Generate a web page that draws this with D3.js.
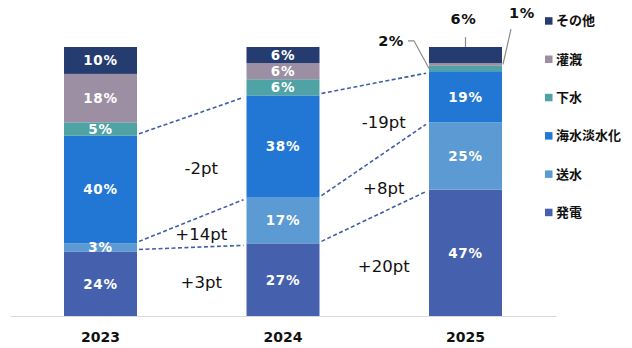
<!DOCTYPE html>
<html><head><meta charset="utf-8">
<script src="https://cdn.jsdelivr.net/npm/d3@7"></script>
<style>
body{margin:0;background:#fff;}
svg{display:block;}
</style></head>
<body><svg id="c" width="632" height="348"></svg>
<script>
const years = ["2023", "2024", "2025"];
const seriesNames = ["発電", "送水", "海水淡水化", "下水", "灌漑", "その他"];
const hatsuden = [24, 27, 47];
const sousui = [3, 17, 25];
const kaisui = [40, 38, 19];
const gesui = [5, 6, 2];
const kangai = [18, 6, 1];
const sonota = [10, 6, 6];
const colors = ["#4561ad", "#5b9ad2", "#2277d4", "#4fa3a5", "#9d8fa3", "#253c70"];
const compareSeries = ["発電", "送水", "海水淡水化"];

const values = [hatsuden, sousui, kaisui, gesui, kangai, sonota];
const rows = years.map((y, i) => {
  const r = {year: y};
  seriesNames.forEach((s, k) => r[s] = values[k][i]);
  return r;
});
const stack = d3.stack().keys(seriesNames)(rows);

const svg = d3.select("#c");
const x = d3.scaleBand().domain(years).range([10, 556]).paddingInner(0.6).paddingOuter(0.296);
const y = d3.scaleLinear().domain([0, 100]).range([316, 47]);
const color = d3.scaleOrdinal().domain(seriesNames).range(colors);
const latin = "'DejaVu Sans', Verdana, sans-serif";
const cjk = "'Noto Sans CJK JP', sans-serif";

// axis
const xAxis = svg.append("g").attr("transform", "translate(0,316)")
  .call(d3.axisBottom(x).tickSize(0).tickPadding(16));
xAxis.select(".domain").attr("stroke", "#d9d9d9").attr("stroke-width", 1.2);
xAxis.selectAll("text").attr("font-family", latin).attr("font-size", 14)
  .attr("font-weight", "bold").attr("fill", "#111");

// bars
const layers = svg.append("g").selectAll("g").data(stack).join("g")
  .attr("fill", d => color(d.key));
layers.selectAll("rect").data(d => d).join("rect")
  .attr("x", d => x(d.data.year))
  .attr("width", x.bandwidth())
  .attr("y", d => y(d[1]))
  .attr("height", d => y(d[0]) - y(d[1]));

// inside labels
const outside = (key, year) => year === "2025" && ["下水", "灌漑", "その他"].includes(key);
stack.forEach(layer => {
  layer.forEach(d => {
    if (outside(layer.key, d.data.year)) return;
    svg.append("text")
      .attr("x", x(d.data.year) + x.bandwidth() / 2)
      .attr("y", (y(d[0]) + y(d[1])) / 2)
      .attr("dy", "0.36em")
      .attr("text-anchor", "middle")
      .attr("font-family", latin).attr("font-size", 13.5).attr("font-weight", "bold")
      .attr("letter-spacing", 0.8)
      .attr("fill", "#fff")
      .text(d.data[layer.key] + "%");
  });
});

// outside labels for 2025 with leader lines
const yr = "2025";
const bx0 = x(yr), bx1 = x(yr) + x.bandwidth(), bxm = bx0 + x.bandwidth() / 2;
const L = k => stack.find(s => s.key === k)[2];
const lead = svg.append("g").attr("stroke", "#8c8c8c").attr("stroke-width", 1.2).attr("fill", "none");
const outText = (xx, yy, anchor, t) => svg.append("text").attr("x", xx).attr("y", yy).attr("dy", "0.36em")
  .attr("text-anchor", anchor).attr("font-family", latin).attr("font-size", 14.5)
  .attr("font-weight", "bold").attr("letter-spacing", 0.6).attr("fill", "#111").text(t);
// その他
const so = L("その他");
lead.append("path").attr("d", `M${bxm},${y(so[1]) - 10}L${bxm},${y(so[1])}`);
outText(bxm - 2, y(so[1]) - 28, "middle", sonota[2] + "%");
// 灌漑
const ka = L("灌漑");
lead.append("path").attr("d", `M${bx1 + 9},${y(ka[1]) - 34}L${bx1 + 1},${(y(ka[0]) + y(ka[1])) / 2}`);
outText(bx1 + 7, y(ka[1]) - 50, "start", kangai[2] + "%");
// 下水
const ge = L("下水");
lead.append("path").attr("d", `M${bx0 - 21},${y(ge[1]) - 25}L${bx0 - 15},${y(ge[1]) - 25}L${bx0},${(y(ge[0]) + y(ge[1])) / 2}`);
outText(bx0 - 25, y(ge[1]) - 25, "end", gesui[2] + "%");

// dashed comparison lines and pt labels
const dash = svg.append("g").attr("stroke", "#3f5ea8").attr("stroke-width", 1.6)
  .attr("stroke-dasharray", "4,2.5").attr("fill", "none");
for (let i = 0; i < years.length - 1; i++) {
  const xa = x(years[i]) + x.bandwidth() + 2;
  const xb = x(years[i + 1]) - 3;
  compareSeries.forEach(k => {
    const s = stack.find(t => t.key === k);
    const a = s[i], b = s[i + 1];
    dash.append("line").attr("x1", xa).attr("y1", y(a[1]) - 2).attr("x2", xb).attr("y2", y(b[1]) + 2);
    const diff = rows[i + 1][k] - rows[i][k];
    const ym = (y(a[0]) + y(a[1]) + y(b[0]) + y(b[1])) / 4;
    svg.append("text").attr("x", (xa + xb) / 2 + 10).attr("y", ym).attr("dy", "0.36em")
      .attr("text-anchor", "middle").attr("font-family", latin).attr("font-size", 16.5)
      .attr("fill", "#111").text((diff > 0 ? "+" : "") + diff + "pt");
  });
}

// legend
const legendOrder = seriesNames.slice().reverse();
const lg = svg.append("g");
legendOrder.forEach((k, i) => {
  const cy = 20.7 + i * 38.3;
  lg.append("rect").attr("x", 545).attr("y", cy - 3.5).attr("width", 7.5).attr("height", 7.5).attr("fill", color(k));
  lg.append("text").attr("x", 556).attr("y", cy).attr("dy", "0.36em")
    .attr("font-family", cjk).attr("font-size", 13).attr("font-weight", "bold")
    .attr("fill", "#111").text(k);
});
</script>
</body></html>
